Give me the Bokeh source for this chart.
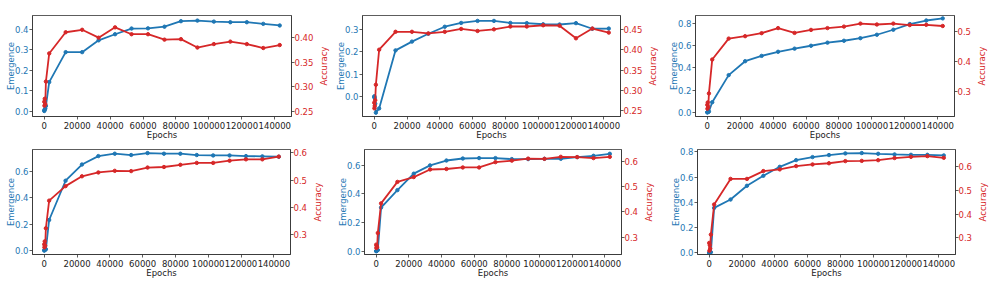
from bokeh.plotting import figure
from bokeh.models import Range1d, LinearAxis, FixedTicker, PrintfTickFormatter, Title
from bokeh.layouts import column, row
from bokeh.embed import file_html
from bokeh.resources import INLINE

# ---------------- data ----------------
epochs = [0, 100, 300, 600, 1000, 3000, 13000, 23000, 33000, 43000, 53000, 63000,
          73000, 83000, 93000, 103000, 113000, 123000, 133000, 143000]
x_ticks = [0, 20000, 40000, 60000, 80000, 100000, 120000, 140000]

emergence_1 = [0.0, 0.004, 0.008, 0.012, 0.025, 0.142, 0.289, 0.289, 0.347, 0.377, 0.405, 0.406,
               0.414, 0.441, 0.444, 0.439, 0.436, 0.436, 0.428, 0.420]
accuracy_1 = [0.270, 0.262, 0.276, 0.265, 0.311, 0.368, 0.411, 0.416, 0.400, 0.421, 0.407, 0.407,
              0.396, 0.397, 0.380, 0.387, 0.392, 0.387, 0.379, 0.385]

emergence_2 = [0.0, 0.003, -0.005, -0.030, -0.070, -0.051, 0.207, 0.246, 0.281, 0.312, 0.329, 0.338,
               0.338, 0.329, 0.328, 0.323, 0.322, 0.328, 0.303, 0.304]
accuracy_2 = [0.270, 0.256, 0.262, 0.276, 0.314, 0.400, 0.444, 0.444, 0.440, 0.444, 0.451, 0.446,
              0.450, 0.457, 0.457, 0.460, 0.459, 0.428, 0.452, 0.442]

emergence_3 = [0.0, 0.001, 0.003, 0.004, 0.008, 0.091, 0.335, 0.460, 0.508, 0.545, 0.573, 0.599,
               0.627, 0.644, 0.667, 0.698, 0.743, 0.794, 0.826, 0.845]
accuracy_3 = [0.255, 0.242, 0.263, 0.248, 0.293, 0.406, 0.476, 0.484, 0.494, 0.511, 0.495, 0.505,
              0.511, 0.516, 0.526, 0.523, 0.526, 0.521, 0.522, 0.518]

emergence_4 = [0.0, 0.002, 0.004, 0.006, 0.010, 0.232, 0.530, 0.653, 0.717, 0.735, 0.725, 0.740,
               0.735, 0.735, 0.725, 0.722, 0.722, 0.717, 0.715, 0.712]
accuracy_4 = [0.265, 0.254, 0.276, 0.260, 0.324, 0.425, 0.478, 0.514, 0.528, 0.534, 0.533, 0.546,
              0.548, 0.556, 0.563, 0.563, 0.571, 0.576, 0.576, 0.586]

emergence_5 = [0.0, 0.002, 0.004, 0.005, 0.008, 0.305, 0.427, 0.542, 0.600, 0.634, 0.648, 0.651,
               0.651, 0.644, 0.644, 0.646, 0.646, 0.658, 0.667, 0.681]
accuracy_5 = [0.270, 0.257, 0.265, 0.260, 0.316, 0.433, 0.518, 0.537, 0.567, 0.569, 0.575, 0.575,
              0.596, 0.602, 0.610, 0.609, 0.617, 0.616, 0.612, 0.617]

emergence_6 = [0.0, 0.001, 0.002, 0.003, 0.005, 0.356, 0.422, 0.531, 0.610, 0.681, 0.734, 0.758,
               0.774, 0.787, 0.790, 0.784, 0.779, 0.776, 0.776, 0.771]
accuracy_6 = [0.279, 0.246, 0.270, 0.255, 0.314, 0.441, 0.549, 0.549, 0.582, 0.589, 0.603, 0.610,
              0.615, 0.624, 0.625, 0.628, 0.637, 0.642, 0.645, 0.638]

left_ticks_1 = [0.0, 0.1, 0.2, 0.3, 0.4]
right_ticks_1 = [0.25, 0.30, 0.35, 0.40]
left_ticks_2 = [0.0, 0.1, 0.2, 0.3]
right_ticks_2 = [0.25, 0.30, 0.35, 0.40, 0.45]
left_ticks_3 = [0.0, 0.2, 0.4, 0.6, 0.8]
right_ticks_3 = [0.3, 0.4, 0.5]
left_ticks_4 = [0.0, 0.2, 0.4, 0.6]
right_ticks_4 = [0.3, 0.4, 0.5, 0.6]
left_ticks_5 = [0.0, 0.2, 0.4, 0.6]
right_ticks_5 = [0.3, 0.4, 0.5, 0.6]
left_ticks_6 = [0.0, 0.2, 0.4, 0.6, 0.8]
right_ticks_6 = [0.3, 0.4, 0.5, 0.6]

x_label = "Epochs"
left_label = "Emergence"
right_label = "Accuracy"

# ---------------- style ----------------
BLUE = "#1f77b4"
RED = "#d62728"
FONT = "DejaVu Sans"
FS = "8.5px"
SPINE = "#333333"


def style_axis(ax, color):
    ax.axis_line_color = SPINE
    ax.axis_line_width = 0.8
    ax.major_tick_line_color = SPINE
    ax.major_tick_line_width = 0.8
    ax.minor_tick_line_color = None
    ax.major_tick_out = 3
    ax.major_tick_in = 0
    ax.major_label_text_font = FONT
    ax.major_label_text_font_size = FS
    ax.major_label_text_color = color
    ax.axis_label_text_font = FONT
    ax.axis_label_text_font_size = FS
    ax.axis_label_text_font_style = "normal"


def make(em, acc, lticks, rticks, rfmt, lrange, rrange, w, bl, br, h, bt, bb):
    p = figure(width=w, height=h, output_backend="svg", toolbar_location=None,
               x_range=Range1d(-7150, 150150), y_range=Range1d(*lrange),
               min_border_left=bl, min_border_right=br,
               min_border_top=bt, min_border_bottom=bb)
    p.extra_y_ranges = {"acc": Range1d(*rrange)}
    p.xgrid.visible = False
    p.ygrid.visible = False
    p.outline_line_color = SPINE
    p.outline_line_width = 0.8
    p.background_fill_color = "white"
    p.border_fill_color = "white"

    xa = p.xaxis[0]
    style_axis(xa, "#222222")
    xa.ticker = FixedTicker(ticks=x_ticks)
    xa.formatter = PrintfTickFormatter(format="%d")
    xa.axis_label = x_label
    xa.axis_label_text_color = "#222222"
    xa.major_label_standoff = 2
    xa.axis_label_standoff = -2

    ya = p.yaxis[0]
    style_axis(ya, BLUE)
    ya.ticker = FixedTicker(ticks=lticks)
    ya.formatter = PrintfTickFormatter(format="%.1f")
    ya.axis_label = left_label
    ya.axis_label_text_color = BLUE
    ya.major_label_standoff = 1
    ya.axis_label_standoff = -4

    ra = LinearAxis(y_range_name="acc")
    style_axis(ra, RED)
    ra.ticker = FixedTicker(ticks=rticks)
    ra.formatter = PrintfTickFormatter(format=rfmt)
    ra.major_label_standoff = 0
    p.add_layout(ra, "right")

    p.line(epochs, em, line_color=BLUE, line_width=1.8)
    p.scatter(epochs, em, marker="circle", size=3.4, fill_color=BLUE, line_color=BLUE)
    p.line(epochs, acc, line_color=RED, line_width=1.8, y_range_name="acc")
    p.scatter(epochs, acc, marker="circle", size=3.4, fill_color=RED, line_color=RED,
              y_range_name="acc")
    return p


def side_title(w, h, bt, bb):
    # narrow companion plot whose left-hand title carries the right axis name
    s = figure(width=w, height=h, output_backend="svg", toolbar_location=None,
               x_axis_location=None, y_axis_location=None,
               min_border_left=0, min_border_right=0,
               min_border_top=bt, min_border_bottom=bb)
    s.xgrid.visible = False
    s.ygrid.visible = False
    s.outline_line_color = None
    s.background_fill_color = "white"
    s.border_fill_color = "white"
    s.add_layout(Title(text=right_label, align="center", standoff=0,
                       text_font=FONT, text_font_size=FS, text_font_style="normal",
                       text_color=RED), "left")
    return s


p1 = make(emergence_1, accuracy_1, left_ticks_1, right_ticks_1, "%.2f",
          (-0.027, 0.469), (0.240, 0.445), 316, 32, 20, 142, 13, 24)
s1 = side_title(16, 142, 13, 24)
p2 = make(emergence_2, accuracy_2, left_ticks_2, right_ticks_2, "%.2f",
          (-0.087, 0.362), (0.236, 0.484), 313, 30, 20, 142, 15, 24)
s2 = side_title(19, 142, 15, 24)
p3 = make(emergence_3, accuracy_3, left_ticks_3, right_ticks_3, "%.1f",
          (-0.037, 0.871), (0.216, 0.553), 310, 31, 16, 142, 15, 22)
s3 = side_title(22, 142, 15, 22)
p4 = make(emergence_4, accuracy_4, left_ticks_4, right_ticks_4, "%.1f",
          (-0.030, 0.767), (0.228, 0.612), 310, 32, 16, 140, 7, 25)
s4 = side_title(22, 140, 7, 25)
p5 = make(emergence_5, accuracy_5, left_ticks_5, right_ticks_5, "%.1f",
          (-0.023, 0.711), (0.231, 0.646), 309, 32, 16, 140, 7, 25)
s5 = side_title(23, 140, 7, 25)
p6 = make(emergence_6, accuracy_6, left_ticks_6, right_ticks_6, "%.1f",
          (-0.013, 0.818), (0.230, 0.673), 311, 33, 16, 140, 5, 28)
s6 = side_title(21, 140, 5, 28)

layout = column(row(p1, s1, p2, s2, p3, s3), row(p4, s4, p5, s5, p6, s6))

open("out.html", "w").write(file_html(layout, INLINE))
